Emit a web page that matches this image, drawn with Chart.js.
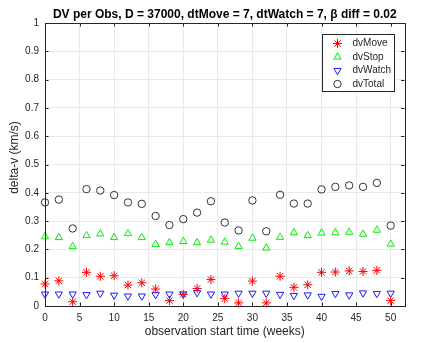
<!DOCTYPE html>
<html>
<head>
<meta charset="utf-8">
<script src="https://cdn.jsdelivr.net/npm/chart.js@4/dist/chart.umd.min.js"></script>
<style>
    body { margin: 0; background: #fff; }
    #wrap { width: 429px; height: 343px; }
</style>
</head>
<body>
<div id="wrap"><canvas id="dvChart" width="429" height="343"></canvas></div>
<script>
// observation start time (weeks)
const weeks = [0, 2, 4, 6, 8, 10, 12, 14, 16, 18, 20, 22, 24, 26, 28, 30, 32, 34, 36, 38, 40, 42, 44, 46, 48, 50];

const dvMove  = [0.078, 0.089, 0.015, 0.119, 0.105, 0.107, 0.074, 0.082, 0.060, 0.019, 0.041, 0.062, 0.094,
                 0.026, 0.011, 0.088, 0.011, 0.105, 0.066, 0.075, 0.119, 0.120, 0.124, 0.122, 0.126, 0.019];
const dvStop  = [0.245, 0.242, 0.210, 0.249, 0.255, 0.242, 0.256, 0.242, 0.218, 0.224, 0.228, 0.224, 0.233,
                 0.226, 0.210, 0.240, 0.205, 0.243, 0.259, 0.249, 0.258, 0.259, 0.261, 0.254, 0.268, 0.219];
const dvWatch = [0.042, 0.042, 0.042, 0.040, 0.045, 0.038, 0.035, 0.035, 0.040, 0.042, 0.042, 0.047, 0.042,
                 0.042, 0.045, 0.045, 0.045, 0.041, 0.037, 0.039, 0.034, 0.044, 0.039, 0.046, 0.044, 0.045];
const dvTotal = [0.366, 0.376, 0.274, 0.413, 0.408, 0.392, 0.366, 0.361, 0.318, 0.286, 0.307, 0.330, 0.370,
                 0.295, 0.267, 0.373, 0.264, 0.393, 0.362, 0.362, 0.412, 0.421, 0.426, 0.421, 0.435, 0.284];

const xTicks = [0, 5, 10, 15, 20, 25, 30, 35, 40, 45, 50];
const yTicks = [0, 0.1, 0.2, 0.3, 0.4, 0.5, 0.6, 0.7, 0.8, 0.9, 1];

const FONT = "'Liberation Sans', Arial, Helvetica, sans-serif";
const AXIS_COLOR = '#262626';

function toPoints(ys) {
    return weeks.map((w, i) => ({ x: w, y: ys[i] }));
}

const series = [
    { label: 'dvMove',  data: dvMove,  color: '#ff0000', style: 'star',     radius: 4.5, rotation: 0 },
    { label: 'dvStop',  data: dvStop,  color: '#00ee00', style: 'triangle', radius: 4.2, rotation: 0 },
    { label: 'dvWatch', data: dvWatch, color: '#1a1aff', style: 'triangle', radius: 4.2, rotation: 180 },
    { label: 'dvTotal', data: dvTotal, color: '#333333', style: 'circle',   radius: 3.7, rotation: 0 }
];

// box on top/right, inward ticks like matlab, y label, and the boxed legend
const matlabAxes = {
    id: 'matlabAxes',
    afterDatasetsDraw(chart) {
        const { ctx, chartArea: a, scales } = chart;
        const tl = 3.5;
        ctx.save();
        ctx.strokeStyle = AXIS_COLOR;
        ctx.lineWidth = 1;
        ctx.beginPath();
        xTicks.forEach(v => {
            const px = Math.round(scales.x.getPixelForValue(v)) + 0.5;
            ctx.moveTo(px, a.bottom); ctx.lineTo(px, a.bottom - tl);
            ctx.moveTo(px, a.top); ctx.lineTo(px, a.top + tl);
        });
        yTicks.forEach(v => {
            const py = Math.round(scales.y.getPixelForValue(v)) + 0.5;
            ctx.moveTo(a.left, py); ctx.lineTo(a.left + tl, py);
            ctx.moveTo(a.right, py); ctx.lineTo(a.right - tl, py);
        });
        ctx.stroke();
        ctx.strokeRect(Math.round(a.left) + 0.5, Math.round(a.top) + 0.5,
                       Math.round(a.right - a.left), Math.round(a.bottom - a.top));

        // y axis label (sits a bit above the middle, as in the original)
        ctx.save();
        ctx.translate(14.5, (a.top + a.bottom) / 2 - 7);
        ctx.rotate(-Math.PI / 2);
        ctx.font = '12px ' + FONT;
        ctx.fillStyle = AXIS_COLOR;
        ctx.textAlign = 'center';
        ctx.textBaseline = 'middle';
        ctx.fillText('delta-v (km/s)', 0, 0);
        ctx.restore();

        // legend
        const w = 72, h = 57;
        const lx = Math.round(a.right - 10.5 - w) + 0.5;
        const ly = Math.round(a.top + 11) + 0.5;
        ctx.fillStyle = '#fff';
        ctx.fillRect(lx, ly, w, h);
        ctx.strokeStyle = AXIS_COLOR;
        ctx.strokeRect(lx, ly, w, h);
        ctx.font = '10px ' + FONT;
        ctx.textBaseline = 'middle';
        series.forEach((s, i) => {
            const cy = ly + 9 + i * 13.5;
            ctx.save();
            ctx.strokeStyle = s.color;
            ctx.fillStyle = 'rgba(0,0,0,0)';
            ctx.lineWidth = 1;
            Chart.helpers.drawPoint(ctx, {
                pointStyle: s.style, radius: s.radius, rotation: s.rotation, borderWidth: 1
            }, lx + 15, cy);
            ctx.restore();
            ctx.fillStyle = AXIS_COLOR;
            ctx.fillText(s.label, lx + 30, cy);
        });
        ctx.restore();
    }
};

new Chart(document.getElementById('dvChart'), {
    type: 'scatter',
    data: {
        datasets: series.map(s => ({
            label: s.label,
            data: toPoints(s.data),
            pointStyle: s.style,
            pointRotation: s.rotation,
            pointRadius: s.radius,
            pointHoverRadius: s.radius,
            borderColor: s.color,
            backgroundColor: 'rgba(0,0,0,0)',
            pointBorderWidth: 1,
            showLine: false,
            clip: false
        }))
    },
    options: {
        responsive: false,
        animation: false,
        devicePixelRatio: 1,
        layout: { padding: { left: 0, right: 24.5, top: 0, bottom: 0 } },
        plugins: {
            legend: { display: false },
            tooltip: { enabled: false },
            title: {
                display: true,
                fullSize: false,
                text: 'DV per Obs, D = 37000, dtMove = 7, dtWatch = 7, β diff = 0.02',
                color: '#000',
                font: { family: FONT, size: 12, weight: 'bold' },
                padding: { top: 7, bottom: 1.6 }
            }
        },
        scales: {
            x: {
                type: 'linear',
                min: 0,
                max: 52,
                afterFit: s => { s.height = 37; },
                ticks: {
                    stepSize: 5,
                    includeBounds: false,
                    color: AXIS_COLOR,
                    padding: 6,
                    maxRotation: 0,
                    font: { family: FONT, size: 10 }
                },
                grid: { color: '#e9e9e9', drawTicks: false },
                border: { color: AXIS_COLOR },
                title: {
                    display: true,
                    text: 'observation start time (weeks)',
                    color: AXIS_COLOR,
                    font: { family: FONT, size: 12 },
                    padding: { top: 0, bottom: 4.5 }
                }
            },
            y: {
                min: 0,
                max: 1,
                afterFit: s => { s.width = 45; },
                ticks: {
                    stepSize: 0.1,
                    color: AXIS_COLOR,
                    padding: 6,
                    font: { family: FONT, size: 10 },
                    callback: v => String(Math.round(v * 10) / 10)
                },
                grid: { color: '#e9e9e9', drawTicks: false },
                border: { color: AXIS_COLOR }
            }
        }
    },
    plugins: [matlabAxes]
});
</script>
</body>
</html>
